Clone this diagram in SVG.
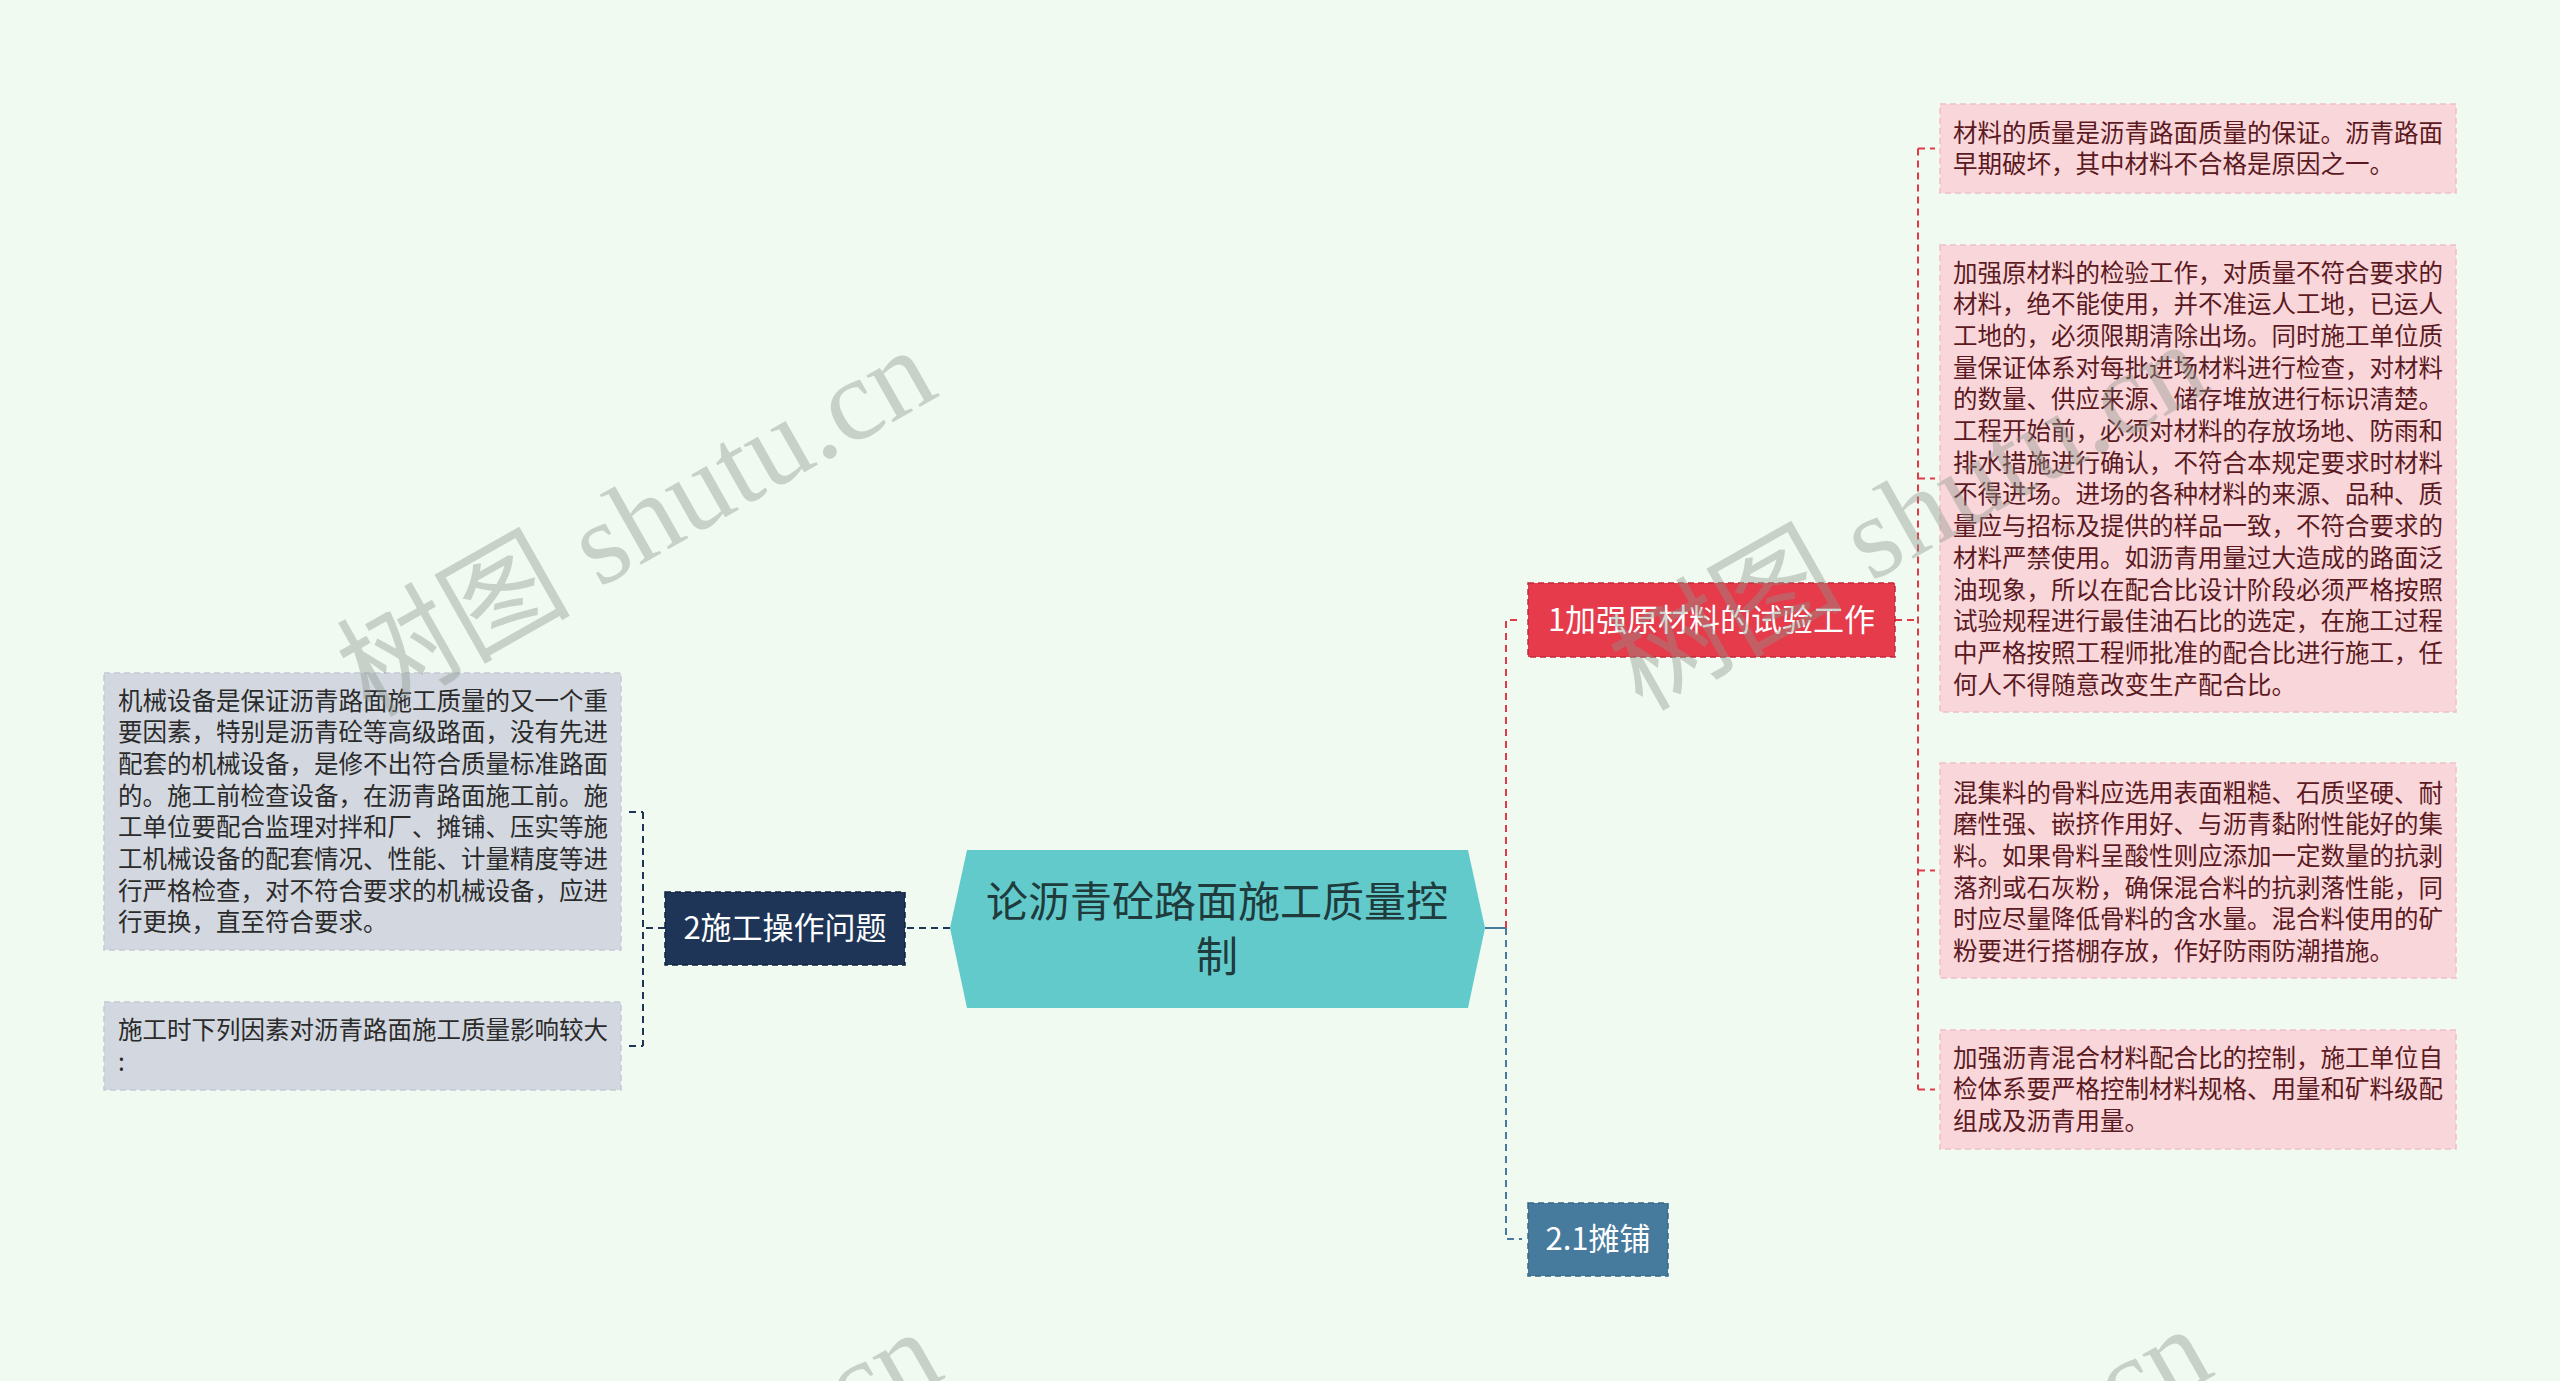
<svg xmlns="http://www.w3.org/2000/svg" width="2560" height="1381" viewBox="0 0 2560 1381">
<style>
.cjk{font-family:"Noto Sans CJK SC","Noto Sans",sans-serif}
.leafG{fill:#D3D8E0;stroke:#C4CAD4;stroke-width:1.5;stroke-dasharray:6 4}
.leafP{fill:#F9D6DA;stroke:#F0BFC6;stroke-width:1.5;stroke-dasharray:6 4}
.tG{font-size:24.5px;fill:#2b2b2b}
.tP{font-size:24.5px;fill:#5B1A22}
.tN{font-size:31px;fill:#ffffff}
.navy{fill:none;stroke:#1E3557;stroke-width:2;stroke-dasharray:7 5}
.red{fill:none;stroke:#E03A4A;stroke-width:2;stroke-dasharray:7 5}
.blue{fill:none;stroke:#467B9E;stroke-width:2;stroke-dasharray:7 5}
.wm{font-family:"Liberation Serif","Noto Sans CJK SC",serif;font-size:117px;fill:#8C968C;opacity:0.4}
</style>
<rect x="0" y="0" width="2560" height="1381" fill="#F0FAF0"/>
<g id="connectors">
<path class="navy" d="M950 928 H905"/>
<path class="navy" d="M665 928 H643 M643 812 V1046 M629 812 H643 M629 1046 H643"/>
<path d="M1485 928 H1506" fill="none" stroke="#467B9E" stroke-width="2"/>
<path class="red" d="M1506 928 V620 H1522"/>
<path class="blue" d="M1506 928 V1239 H1522"/>
<path class="red" d="M1895 620 H1918 M1918 148.5 V1089.5 M1918 148.5 H1935 M1918 478.5 H1935 M1918 870.5 H1935 M1918 1089.5 H1935"/>
</g>
<g id="central">
<polygon points="967,850 1468,850 1485,928 1468,1008 967,1008 950,928" fill="#63CACC"/>
<text class="cjk" x="1217" y="917" font-size="42" fill="#1F3B3C" text-anchor="middle">论沥青砼路面施工质量控</text>
<text class="cjk" x="1217" y="972" font-size="42" fill="#1F3B3C" text-anchor="middle">制</text>
</g>
<g id="node-2">
<rect x="665" y="892" width="240" height="73" fill="#1E3557" stroke="#10223C" stroke-width="1.5" stroke-dasharray="6 4"/>
<text class="cjk tN" x="785" y="939" text-anchor="middle">2施工操作问题</text>
</g>
<g id="leaf-l1">
<rect class="leafG" x="104" y="673" width="517" height="277"/>
<text class="cjk tG" x="118" y="709.5">机械设备是保证沥青路面施工质量的又一个重</text>
<text class="cjk tG" x="118" y="741.2">要因素，特别是沥青砼等高级路面，没有先进</text>
<text class="cjk tG" x="118" y="772.9">配套的机械设备，是修不出符合质量标准路面</text>
<text class="cjk tG" x="118" y="804.6">的。施工前检查设备，在沥青路面施工前。施</text>
<text class="cjk tG" x="118" y="836.3">工单位要配合监理对拌和厂、摊铺、压实等施</text>
<text class="cjk tG" x="118" y="868">工机械设备的配套情况、性能、计量精度等进</text>
<text class="cjk tG" x="118" y="899.7">行严格检查，对不符合要求的机械设备，应进</text>
<text class="cjk tG" x="118" y="931.4">行更换，直至符合要求。</text>
</g>
<g id="leaf-l2">
<rect class="leafG" x="104" y="1002" width="517" height="88"/>
<text class="cjk tG" x="118" y="1039">施工时下列因素对沥青路面施工质量影响较大</text>
<text class="cjk tG" x="118" y="1070.7">:</text>
</g>
<g id="node-1">
<rect x="1528" y="583" width="367" height="74" fill="#E63B4B" stroke="#C42A3A" stroke-width="1.5" stroke-dasharray="6 4"/>
<text class="cjk tN" x="1711.5" y="631" text-anchor="middle">1加强原材料的试验工作</text>
</g>
<g id="node-21">
<rect x="1528" y="1203" width="140" height="73" fill="#467B9E" stroke="#386887" stroke-width="1.5" stroke-dasharray="6 4"/>
<text class="cjk tN" x="1598" y="1250" text-anchor="middle">2.1摊铺</text>
</g>
<g id="leaf-r1">
<rect class="leafP" x="1940" y="104" width="516" height="89"/>
<text class="cjk tP" x="1953" y="141.5">材料的质量是沥青路面质量的保证。沥青路面</text>
<text class="cjk tP" x="1953" y="173.2">早期破坏，其中材料不合格是原因之一。</text>
</g>
<g id="leaf-r2">
<rect class="leafP" x="1940" y="245" width="516" height="467"/>
<text class="cjk tP" x="1953" y="281.5">加强原材料的检验工作，对质量不符合要求的</text>
<text class="cjk tP" x="1953" y="313.2">材料，绝不能使用，并不准运人工地，已运人</text>
<text class="cjk tP" x="1953" y="344.9">工地的，必须限期清除出场。同时施工单位质</text>
<text class="cjk tP" x="1953" y="376.6">量保证体系对每批进场材料进行检查，对材料</text>
<text class="cjk tP" x="1953" y="408.3">的数量、供应来源、储存堆放进行标识清楚。</text>
<text class="cjk tP" x="1953" y="440">工程开始前，必须对材料的存放场地、防雨和</text>
<text class="cjk tP" x="1953" y="471.7">排水措施进行确认，不符合本规定要求时材料</text>
<text class="cjk tP" x="1953" y="503.4">不得进场。进场的各种材料的来源、品种、质</text>
<text class="cjk tP" x="1953" y="535.1">量应与招标及提供的样品一致，不符合要求的</text>
<text class="cjk tP" x="1953" y="566.8">材料严禁使用。如沥青用量过大造成的路面泛</text>
<text class="cjk tP" x="1953" y="598.5">油现象，所以在配合比设计阶段必须严格按照</text>
<text class="cjk tP" x="1953" y="630.2">试验规程进行最佳油石比的选定，在施工过程</text>
<text class="cjk tP" x="1953" y="661.9">中严格按照工程师批准的配合比进行施工，任</text>
<text class="cjk tP" x="1953" y="693.6">何人不得随意改变生产配合比。</text>
</g>
<g id="leaf-r3">
<rect class="leafP" x="1940" y="763" width="516" height="215"/>
<text class="cjk tP" x="1953" y="801.5">混集料的骨料应选用表面粗糙、石质坚硬、耐</text>
<text class="cjk tP" x="1953" y="833.2">磨性强、嵌挤作用好、与沥青黏附性能好的集</text>
<text class="cjk tP" x="1953" y="864.9">料。如果骨料呈酸性则应添加一定数量的抗剥</text>
<text class="cjk tP" x="1953" y="896.6">落剂或石灰粉，确保混合料的抗剥落性能，同</text>
<text class="cjk tP" x="1953" y="928.3">时应尽量降低骨料的含水量。混合料使用的矿</text>
<text class="cjk tP" x="1953" y="960">粉要进行搭棚存放，作好防雨防潮措施。</text>
</g>
<g id="leaf-r4">
<rect class="leafP" x="1940" y="1030" width="516" height="119"/>
<text class="cjk tP" x="1953" y="1066.5">加强沥青混合材料配合比的控制，施工单位自</text>
<text class="cjk tP" x="1953" y="1098.2">检体系要严格控制材料规格、用量和矿料级配</text>
<text class="cjk tP" x="1953" y="1129.9">组成及沥青用量。</text>
</g>
<g id="watermarks">
<text class="wm" transform="translate(370,718) rotate(-29.5)">树图 shutu.cn</text>
<text class="wm" transform="translate(1642,712) rotate(-29.5)">树图 shutu.cn</text>
<text class="wm" transform="translate(376,1700) rotate(-29.5)">树图 shutu.cn</text>
<text class="wm" transform="translate(1646,1697) rotate(-29.5)">树图 shutu.cn</text>
</g>
</svg>
